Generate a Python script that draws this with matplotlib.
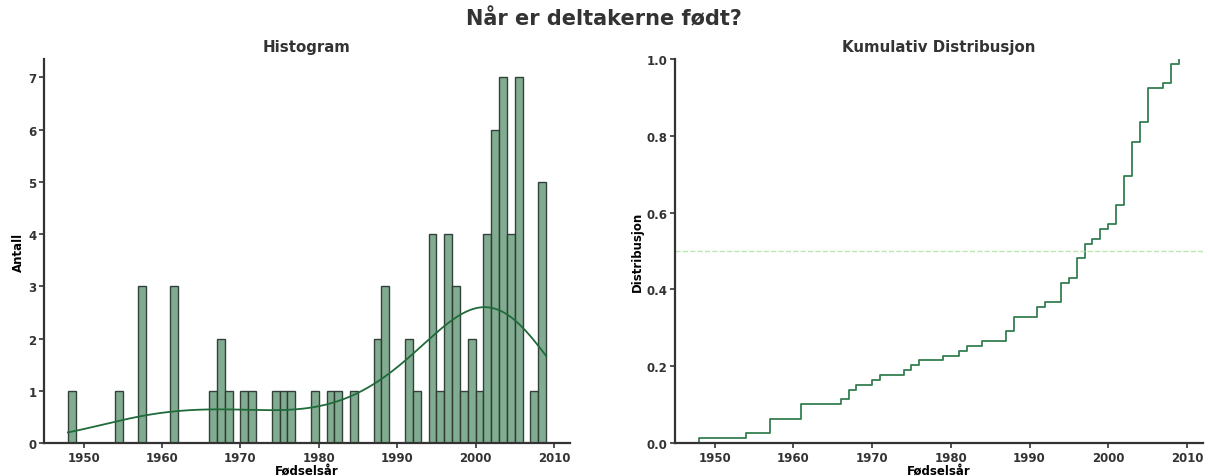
import numpy as np
import matplotlib.pyplot as plt

# Fødselsår og antall deltakere per år
years = [1948, 1954, 1957, 1961, 1966, 1967, 1968, 1970, 1971, 1974, 1975, 1976,
         1979, 1981, 1982, 1984, 1987, 1988, 1991, 1992, 1994, 1995, 1996, 1997,
         1998, 1999, 2000, 2001, 2002, 2003, 2004, 2005, 2007, 2008, 2009]
counts = [1, 1, 3, 3, 1, 2, 1, 1, 1, 1, 1, 1,
          1, 1, 1, 1, 2, 3, 2, 1, 4, 1, 4, 3,
          1, 2, 1, 4, 6, 7, 4, 7, 1, 4, 1]

birth_years = np.repeat(years, counts).astype(float)

text_color = '#333333'
bar_color = '#7ba88b'
kde_color = '#1f6b3a'
cdf_color = '#357f52'

plt.rcParams['font.family'] = 'DejaVu Sans'
plt.rcParams['font.weight'] = 'bold'
plt.rcParams['text.color'] = text_color
plt.rcParams['axes.labelcolor'] = 'black'
plt.rcParams['xtick.color'] = text_color
plt.rcParams['ytick.color'] = text_color

fig = plt.figure(figsize=(12.08, 4.77), dpi=100)
ax1 = fig.add_axes([0.0364, 0.069, 0.4355, 0.805])
ax2 = fig.add_axes([0.5588, 0.069, 0.4371, 0.805])

fig.suptitle('Når er deltakerne født?', fontsize=15, fontweight='bold',
             color=text_color, y=0.982)

# Histogram
bins = np.arange(birth_years.min(), birth_years.max() + 1)
ax1.hist(birth_years, bins=bins, color=bar_color, edgecolor='#2b3a30',
         linewidth=1.0, alpha=0.95)

# KDE (Gaussian, Scott's rule), skalert til antall
n = len(birth_years)
bw = birth_years.std(ddof=1) * n ** (-1 / 5)
xs = np.linspace(birth_years.min(), birth_years.max(), 300)
dens = np.exp(-0.5 * ((xs[:, None] - birth_years[None, :]) / bw) ** 2).sum(axis=1)
dens = dens / (n * bw * np.sqrt(2 * np.pi))
ax1.plot(xs, dens * n * 1.0, color=kde_color, linewidth=1.3)

ax1.set_title('Histogram', fontsize=10.8, fontweight='bold', color=text_color)
ax1.set_xlabel('Fødselsår', fontsize=8.5, fontweight='bold', labelpad=0)
ax1.set_ylabel('Antall', fontsize=8.5, fontweight='bold', labelpad=2)
ax1.set_yticks(range(0, 8))
ax1.set_ylim(0, 7.35)

# Kumulativ distribusjon
ax2.ecdf(birth_years, color=cdf_color, linewidth=1.3)
ax2.axhline(0.5, color='#a8e39c', linestyle='--', linewidth=1.0, alpha=0.8)
ax2.set_title('Kumulativ Distribusjon', fontsize=10.8, fontweight='bold', color=text_color)
ax2.set_xlabel('Fødselsår', fontsize=8.5, fontweight='bold', labelpad=0)
ax2.set_ylabel('Distribusjon', fontsize=8.5, fontweight='bold', labelpad=2)
ax2.set_ylim(0, 1)
ax2.set_yticks(np.arange(0, 1.01, 0.2))

for ax in (ax1, ax2):
    ax.set_xlim(1944.95, 2012.05)
    ax.set_xticks([1950, 1960, 1970, 1980, 1990, 2000, 2010])
    ax.spines['top'].set_visible(False)
    ax.spines['right'].set_visible(False)
    ax.spines['left'].set_linewidth(1.6)
    ax.spines['bottom'].set_linewidth(1.6)
    ax.spines['left'].set_color('#333333')
    ax.spines['bottom'].set_color('#333333')
    ax.tick_params(labelsize=8.5, width=1.2, length=3.5, pad=2)
    for lab in ax.get_xticklabels() + ax.get_yticklabels():
        lab.set_fontweight('bold')

fig.savefig('out.png', dpi=100)
